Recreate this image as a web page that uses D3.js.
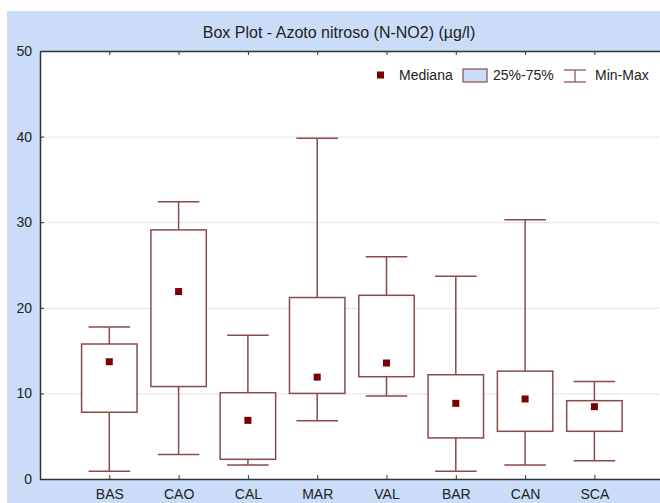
<!DOCTYPE html>
<html>
<head>
<meta charset="utf-8">
<script src="https://cdn.jsdelivr.net/npm/d3@7"></script>
<style>
  body { margin: 0; background: #fff; }
  text { font-family: "Liberation Sans", Arial, sans-serif; fill: #222; }
</style>
</head>
<body>
<script>
// values
var stations = ["BAS", "CAO", "CAL", "MAR", "VAL", "BAR", "CAN", "SCA"];
var minVals  = [0.9, 2.85, 1.64, 6.8, 9.7, 0.9, 1.64, 2.14];
var q1Vals   = [7.8, 10.8, 2.3, 10.0, 11.95, 4.8, 5.57, 5.57];
var medVals  = [13.7, 21.9, 6.85, 11.9, 13.55, 8.84, 9.35, 8.45];
var q3Vals   = [15.77, 29.1, 10.08, 21.2, 21.46, 12.18, 12.6, 9.15];
var maxVals  = [17.76, 32.4, 16.8, 39.8, 25.97, 23.7, 30.3, 11.4];
var yTicks   = [0, 10, 20, 30, 40, 50];

var W = 660, H = 503;
var plotL = 40, plotT = 51, plotB = 479;
var plotR = plotL + 9 * 69.3;
var boxCol = "#8a4a4a", medCol = "#7a0000", bg = "#cadcf8";

var svg = d3.select("body").append("svg")
  .attr("width", W).attr("height", H);

svg.append("rect").attr("x", 7).attr("y", 11)
  .attr("width", W - 7).attr("height", H - 11).attr("fill", bg);

svg.append("rect").attr("x", plotL).attr("y", plotT)
  .attr("width", plotR - plotL).attr("height", plotB - plotT).attr("fill", "#fff");

var x = d3.scalePoint().domain(stations).range([plotL, plotR]).padding(1);
var y = d3.scaleLinear().domain([0, 50]).range([plotB, plotT]);
var step = x.step();

// dotted grid
svg.append("g").selectAll("line")
  .data(yTicks.filter(function(d){ return d > 0 && d < 50; }))
  .enter().append("line")
  .attr("x1", plotL).attr("x2", plotR)
  .attr("y1", function(d){ return y(d) + 0.5; })
  .attr("y2", function(d){ return y(d) + 0.5; })
  .attr("stroke", "#c8c8c8").attr("stroke-dasharray", "1,1");

// title
svg.append("text").attr("x", 339).attr("y", 38)
  .attr("text-anchor", "middle").style("font-size", "16px")
  .text("Box Plot - Azoto nitroso (N-NO2) (µg/l)");

// axes
var xAxis = svg.append("g").attr("transform", "translate(0," + plotB + ")")
  .call(d3.axisBottom(x).tickSizeInner(-4).tickSizeOuter(0).tickPadding(10));
var xTop = svg.append("g").attr("transform", "translate(0," + plotT + ")")
  .call(d3.axisTop(x).tickSizeInner(-4).tickSizeOuter(0).tickFormat(""));
var yAxis = svg.append("g").attr("transform", "translate(" + plotL + ",0)")
  .call(d3.axisLeft(y).tickValues(yTicks).tickSizeInner(-4).tickSizeOuter(0).tickPadding(8));

[xAxis, xTop, yAxis].forEach(function(a){
  a.select(".domain").attr("stroke", "#333").attr("stroke-width", 1.5);
  a.selectAll(".tick line").attr("stroke", "#333");
  a.selectAll("text").style("font-size", "14px").attr("fill", "#222")
    .style("font-family", "'Liberation Sans', Arial, sans-serif");
});

// boxes
var g = svg.append("g");
stations.forEach(function(s, i){
  var cx = x(s);
  var bw = step * 0.8, cw = step * 0.6;
  g.append("line").attr("x1", cx).attr("x2", cx)
    .attr("y1", y(maxVals[i])).attr("y2", y(q3Vals[i]))
    .attr("stroke", boxCol).attr("stroke-width", 1.5);
  g.append("line").attr("x1", cx).attr("x2", cx)
    .attr("y1", y(q1Vals[i])).attr("y2", y(minVals[i]))
    .attr("stroke", boxCol).attr("stroke-width", 1.5);
  g.append("line").attr("x1", cx - cw/2).attr("x2", cx + cw/2)
    .attr("y1", y(maxVals[i])).attr("y2", y(maxVals[i]))
    .attr("stroke", boxCol).attr("stroke-width", 1.5);
  g.append("line").attr("x1", cx - cw/2).attr("x2", cx + cw/2)
    .attr("y1", y(minVals[i])).attr("y2", y(minVals[i]))
    .attr("stroke", boxCol).attr("stroke-width", 1.5);
  g.append("rect").attr("x", cx - bw/2).attr("y", y(q3Vals[i]))
    .attr("width", bw).attr("height", y(q1Vals[i]) - y(q3Vals[i]))
    .attr("fill", "#fff").attr("stroke", boxCol).attr("stroke-width", 1.5);
  g.append("rect").attr("x", cx - 3.5).attr("y", y(medVals[i]) - 3.5)
    .attr("width", 7).attr("height", 7).attr("fill", medCol);
});

// legend
var lg = svg.append("g").attr("transform", "translate(0,75)");
lg.append("rect").attr("x", 377).attr("y", -3.5).attr("width", 7).attr("height", 7).attr("fill", medCol);
lg.append("text").attr("x", 399).attr("y", 5).style("font-size", "14px").text("Mediana");
lg.append("rect").attr("x", 463).attr("y", -6).attr("width", 24).attr("height", 13)
  .attr("fill", bg).attr("stroke", boxCol).attr("stroke-width", 1.2);
lg.append("text").attr("x", 493).attr("y", 5).style("font-size", "14px").text("25%-75%");
lg.append("line").attr("x1", 564).attr("x2", 586).attr("y1", -5).attr("y2", -5).attr("stroke", boxCol).attr("stroke-width", 1.2);
lg.append("line").attr("x1", 564).attr("x2", 586).attr("y1", 7).attr("y2", 7).attr("stroke", boxCol).attr("stroke-width", 1.2);
lg.append("line").attr("x1", 575).attr("x2", 575).attr("y1", -5).attr("y2", 7).attr("stroke", boxCol).attr("stroke-width", 1.2);
lg.append("text").attr("x", 595).attr("y", 5).style("font-size", "14px").text("Min-Max");
</script>
</body>
</html>
